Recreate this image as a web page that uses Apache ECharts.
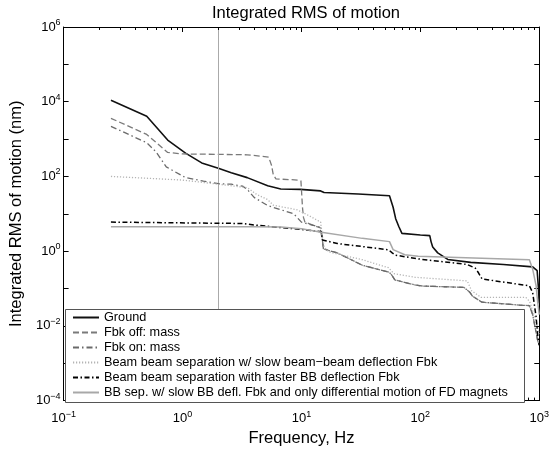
<!DOCTYPE html>
<html>
<head>
<meta charset="utf-8">
<script src="https://cdn.jsdelivr.net/npm/echarts@6/dist/echarts.min.js"></script>
<style>html,body{margin:0;padding:0;background:#fff}#c{width:552px;height:452px}</style>
</head>
<body>
<div id="c"></div>
<script>
// ---- data ----
const seriesNames = [
  'Ground',
  'Fbk off: mass',
  'Fbk on: mass',
  'Beam beam separation w/ slow beam\u2212beam deflection Fbk',
  'Beam beam separation with faster BB deflection Fbk',
  'BB sep. w/ slow BB defl. Fbk and only differential motion of FD magnets'
];

const groundF = [0.25, 0.5, 0.75, 1.06, 1.45, 2.0, 2.57, 3.5, 5.2, 6.7, 9.8, 14.5, 15.5, 30, 55, 57, 59, 62, 66, 70, 100, 120, 123, 127, 140, 170, 265, 500, 880, 960, 985, 1000];
const groundV = [11000, 4100, 940, 420, 230, 165, 126, 93, 56, 46, 45, 41, 37, 34, 30.5, 28, 15, 7.4, 4.5, 3.0, 2.7, 2.6, 1.8, 1.3, 0.9, 0.6, 0.5, 0.44, 0.38, 0.3, 0.1, 0.04];

const fbkOffF = [0.25, 0.5, 0.75, 1.0, 2.0, 3.5, 5.3, 5.6, 5.8, 6.1, 9.4, 9.9, 10.0, 10.2, 10.4, 10.7, 14.7, 15.0, 15.3, 20, 32.5, 55, 58, 61, 90, 102, 233, 260, 275, 330, 684, 826, 880, 930, 970, 1000];
const fbkOffV = [3600, 1330, 440, 400, 390, 380, 330, 200, 110, 86, 80, 76, 45, 15, 8, 6.0, 4.1, 2.0, 1.15, 0.9, 0.42, 0.27, 0.22, 0.17, 0.125, 0.117, 0.107, 0.08, 0.062, 0.043, 0.036, 0.035, 0.02, 0.008, 0.004, 0.003];

const fbkOnF = [0.25, 0.5, 0.6, 0.73, 1.06, 1.5, 2.0, 2.57, 3.2, 3.5, 4.0, 5.2, 8.6, 10, 14.3, 15.0, 15.3, 20, 32.5, 55, 58, 61, 90, 102, 233, 260, 275, 330, 684, 826, 880, 930, 970, 1000];
const fbkOnV = [2200, 800, 450, 180, 93, 75, 64, 62, 55, 45, 27.5, 16.6, 10, 6.0, 4.4, 2.0, 1.15, 0.9, 0.42, 0.27, 0.22, 0.17, 0.125, 0.117, 0.107, 0.08, 0.062, 0.043, 0.036, 0.035, 0.02, 0.008, 0.004, 0.003];

const bbSlowF = [0.25, 1.0, 2.0, 3.5, 4.2, 5.2, 5.8, 9.2, 11.5, 14.5, 15.0, 15.5, 17, 32.5, 54, 60, 90, 248, 270, 323, 770, 830, 900, 960, 1000];
const bbSlowV = [100, 80, 62, 50, 33, 24, 17, 12.8, 9, 6.0, 2.5, 1.3, 0.95, 0.59, 0.36, 0.25, 0.2, 0.16, 0.087, 0.058, 0.058, 0.045, 0.02, 0.01, 0.006];

const bbFastF = [0.25, 3.2, 4.3, 10, 14.7, 15.0, 15.4, 20, 32.5, 54, 58, 62, 96, 248, 290, 309, 330, 826, 880, 940, 970, 1000];
const bbFastV = [6.0, 5.5, 4.9, 3.8, 3.3, 2.0, 1.8, 1.6, 1.33, 1.09, 0.9, 0.78, 0.62, 0.44, 0.35, 0.26, 0.18, 0.118, 0.078, 0.0175, 0.0056, 0.003];

const bbDiffF = [0.25, 3.9, 6.7, 10, 14.7, 15.2, 32.5, 55, 59, 74, 96, 826, 880, 940, 970, 1000];
const bbDiffV = [4.5, 4.47, 4.4, 4.0, 3.2, 3.0, 2.2, 1.8, 1.1, 0.8, 0.73, 0.59, 0.33, 0.12, 0.043, 0.02];

const markerFreq = [2];
const xLabelExps = [-1, 0, 1, 2, 3];
const yLabelExps = [-4, -2, 0, 2, 4, 6];
const xMinorTicks = [0.2, 0.3, 0.4, 0.5, 0.6, 0.7, 0.8, 0.9,
  2, 3, 4, 5, 6, 7, 8, 9,
  20, 30, 40, 50, 60, 70, 80, 90,
  200, 300, 400, 500, 600, 700, 800, 900];

// ---- chart ----
const FONT = 'Liberation Sans, Arial, Helvetica, sans-serif';
const pair = (f, v) => f.map((x, i) => [x, v[i]]);
const supText = (e) => '{b|10}{s|' + (e < 0 ? '\u2212' + (-e) : e) + '}';
const rich = {
  b: { fontSize: 13, fontFamily: FONT, color: '#000' },
  s: { fontSize: 9, fontFamily: FONT, color: '#000', padding: [0, 0, 9, 0] }
};

const styles = [
  { color: '#111', type: 'solid', width: 1.6 },
  { color: '#7a7a7a', type: [6, 3], width: 1.3 },
  { color: '#6a6a6a', type: [6, 3, 1.5, 3], width: 1.3 },
  { color: '#b4b4b4', type: [1.2, 1.8], width: 1.3 },
  { color: '#000', type: [5, 2.5, 1.5, 2.5], width: 1.5 },
  { color: '#a8a8a8', type: 'solid', width: 1.5 }
];
const datasets = [
  pair(groundF, groundV), pair(fbkOffF, fbkOffV), pair(fbkOnF, fbkOnV),
  pair(bbSlowF, bbSlowV), pair(bbFastF, bbFastV), pair(bbDiffF, bbDiffV)
];

const series = datasets.map((d, i) => ({
  name: seriesNames[i],
  type: 'line',
  data: d,
  symbol: 'none',
  showSymbol: false,
  smooth: false,
  z: 3 + i,
  lineStyle: styles[i],
  itemStyle: { color: styles[i].color },
  emphasis: { disabled: true }
}));

series[0].markLine = {
  silent: true,
  symbol: ['none', 'none'],
  label: { show: false },
  lineStyle: { color: '#aaaaaa', type: 'solid', width: 1 },
  emphasis: { disabled: true },
  data: markerFreq.map(f => ({ xAxis: f }))
};
series[0].z = 2;

series.push({
  type: 'custom',
  name: 'minorTicks',
  silent: true,
  clip: false,
  z: 20,
  data: xMinorTicks.map(v => [v, 1]),
  encode: { x: 0, y: 1 },
  renderItem: function (params, api) {
    const v = api.value(0);
    const b = api.coord([v, 1e-4]);
    const t = api.coord([v, 1e6]);
    const x = Math.round(b[0]) + 0.5;
    return {
      type: 'group',
      children: [
        { type: 'line', shape: { x1: x, y1: b[1], x2: x, y2: b[1] - 3 }, style: { stroke: '#000', lineWidth: 1 } },
        { type: 'line', shape: { x1: x, y1: t[1], x2: x, y2: t[1] + 3 }, style: { stroke: '#000', lineWidth: 1 } }
      ]
    };
  }
});

const axisLineStyle = { show: true, lineStyle: { color: '#000', width: 1 } };
const baseX = {
  type: 'log', logBase: 10, min: 0.1, max: 1000,
  splitLine: { show: false },
  axisLine: axisLineStyle,
  axisTick: { show: true, inside: true, length: 5, lineStyle: { color: '#000' } },
  minorTick: { show: false }
};
const baseY = {
  type: 'log', logBase: 10, min: 1e-4, max: 1e6, splitNumber: 10, interval: 1,
  splitLine: { show: false },
  axisLine: axisLineStyle,
  axisTick: { show: true, inside: true, length: 5, lineStyle: { color: '#000' } },
  minorTick: { show: false }
};

const option = {
  animation: false,
  backgroundColor: '#fff',
  title: {
    text: 'Integrated RMS of motion',
    left: 301, top: 0, textAlign: 'center',
    textStyle: { fontSize: 16.5, fontWeight: 'normal', fontFamily: FONT, color: '#000' }
  },
  grid: { left: 59, right: 9, top: 27, bottom: 45, containLabel: false },
  xAxis: [
    Object.assign({}, baseX, {
      position: 'bottom',
      name: 'Frequency, Hz', nameLocation: 'middle', nameGap: 23,
      nameTextStyle: { fontSize: 16.5, fontFamily: FONT, color: '#000' },
      axisLabel: {
        show: true, margin: 9,
        formatter: (v) => {
          const e = Math.round(Math.log10(v));
          return xLabelExps.includes(e) ? supText(e) : '';
        },
        rich: rich
      }
    }),
    Object.assign({}, baseX, { position: 'top', axisLabel: { show: false } })
  ],
  yAxis: [
    Object.assign({}, baseY, {
      position: 'left',
      name: 'Integrated RMS of motion (nm)', nameLocation: 'middle', nameGap: 23,
      nameTextStyle: { fontSize: 16.5, fontFamily: FONT, color: '#000' },
      axisLabel: {
        show: true, margin: 3,
        formatter: (v) => {
          const e = Math.round(Math.log10(v));
          return yLabelExps.includes(e) ? supText(e) : '';
        },
        rich: rich
      }
    }),
    Object.assign({}, baseY, { position: 'right', axisLabel: { show: false } })
  ],
  legend: {
    data: seriesNames,
    orient: 'vertical',
    left: 72, top: 310,
    padding: 0,
    itemGap: 0,
    itemWidth: 26, itemHeight: 10,
    z: 60,
    selectedMode: false,
    itemStyle: { opacity: 0 },
    textStyle: { fontSize: 12.7, fontFamily: FONT, color: '#000', lineHeight: 15 }
  },
  graphic: [{
    type: 'rect', z: 50, silent: true,
    shape: { x: 65.5, y: 309.5, width: 459, height: 93 },
    style: { fill: '#fff', stroke: '#555', lineWidth: 1 }
  }],
  series: series
};

const chart = echarts.init(document.getElementById('c'), null, { renderer: 'canvas' });
chart.setOption(option);
</script>
</body>
</html>
